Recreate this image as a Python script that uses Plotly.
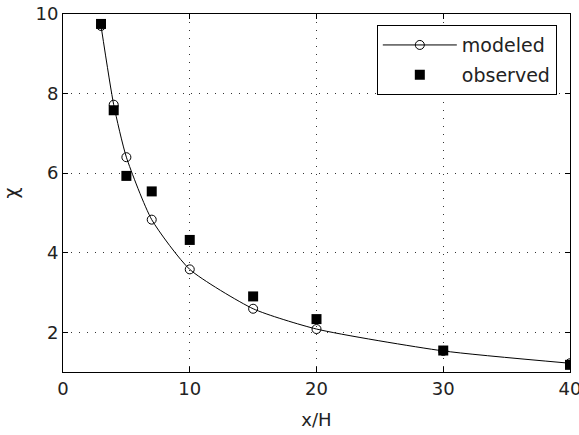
import plotly.graph_objects as go

# Dilution factor chi versus downwind distance x/H
x_model = [3, 4, 5, 7, 10, 15, 20, 30, 40]
chi_model = [9.7, 7.72, 6.4, 4.83, 3.58, 2.59, 2.08, 1.53, 1.22]

x_obs = [3, 4, 5, 7, 10, 15, 20, 30, 40]
chi_obs = [9.75, 7.58, 5.93, 5.54, 4.32, 2.9, 2.33, 1.54, 1.18]

x_ticks = [0, 10, 20, 30, 40]
y_ticks = [2, 4, 6, 8, 10]

FONT = "DejaVu Sans, Liberation Sans, sans-serif"
TXT = "#222"

fig = go.Figure()
fig.add_trace(go.Scatter(
    x=x_model, y=chi_model, name="modeled", legendgroup="m",
    mode="lines+markers",
    line=dict(color="black", width=1, shape="spline", smoothing=0.6),
    marker=dict(symbol="circle-open", size=9, color="black", line=dict(width=1)),
))
fig.add_trace(go.Scatter(
    x=x_obs, y=chi_obs, name="observed", legendgroup="o",
    mode="markers",
    marker=dict(symbol="square", size=10, color="black"),
))

axis_common = dict(
    showline=True, linecolor="black", linewidth=1, mirror="ticks",
    ticks="inside", ticklen=5, tickcolor="black",
    showgrid=True, gridcolor="#333", gridwidth=1, griddash="1px,7px",
    zeroline=False, automargin=False,
    tickfont=dict(family=FONT, size=18, color=TXT),
)

fig.update_xaxes(
    range=[0, 40], tickvals=x_ticks, ticklabeloverflow="allow",
    title=dict(text="x/H", font=dict(family=FONT, size=18, color=TXT), standoff=15),
    **axis_common,
)
fig.update_yaxes(
    range=[1, 10], tickvals=y_ticks,
    title=dict(text="χ", font=dict(family=FONT, size=19, color=TXT), standoff=20),
    **axis_common,
)

fig.update_layout(
    width=579, height=435,
    margin=dict(l=63, r=9, t=14, b=63),
    paper_bgcolor="white", plot_bgcolor="white",
    showlegend=True,
    legend=dict(
        x=0.974, y=0.969, xanchor="right", yanchor="top",
        bgcolor="white", bordercolor="black", borderwidth=1,
        font=dict(family=FONT, size=19, color=TXT),
        itemwidth=74, tracegroupgap=2,
    ),
)

fig.write_html("out.html")
